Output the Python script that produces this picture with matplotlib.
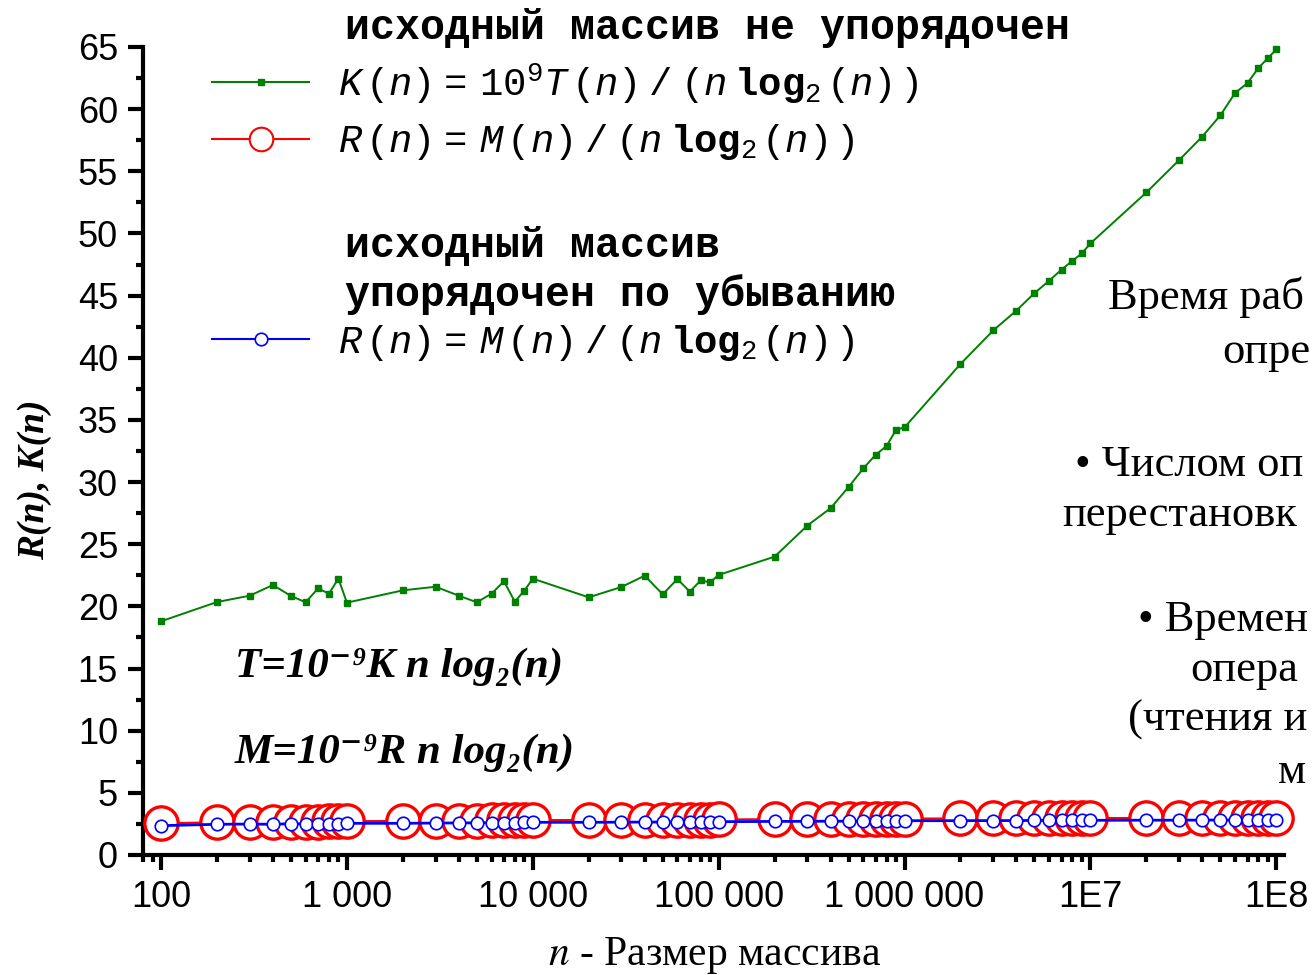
#!/usr/bin/env python3
# -*- coding: utf-8 -*-
"""K(n) и R(n) для сортировки: время и число операций, нормированные на n log2(n)."""
import matplotlib

matplotlib.use("Agg")
import matplotlib.pyplot as plt
from matplotlib.lines import Line2D
from matplotlib.ticker import FixedFormatter, FixedLocator, MultipleLocator

# размеры массива
n_values = [
    100, 200, 300, 400, 500, 600, 700, 800, 900,
    1000, 2000, 3000, 4000, 5000, 6000, 7000, 8000, 9000,
    10000, 20000, 30000, 40000, 50000, 60000, 70000, 80000, 90000,
    100000, 200000, 300000, 400000, 500000, 600000, 700000, 800000, 900000,
    1000000, 2000000, 3000000, 4000000, 5000000, 6000000, 7000000, 8000000, 9000000,
    10000000, 20000000, 30000000, 40000000, 50000000, 60000000, 70000000, 80000000, 90000000,
    100000000,
]

# K(n), исходный массив не упорядочен
k_unsorted = [
    18.8, 20.35, 20.86, 21.72, 20.84, 20.33, 21.45, 21.02, 22.23,
    20.3, 21.29, 21.58, 20.86, 20.33, 21.02, 22.02, 20.38, 21.26,
    22.23, 20.73, 21.56, 22.47, 20.97, 22.2, 21.18, 22.09, 21.94,
    22.53, 24.0, 26.5, 27.9, 29.6, 31.1, 32.2, 32.9, 34.2,
    34.4, 39.5, 42.2, 43.8, 45.2, 46.2, 47.1, 47.8, 48.4,
    49.2, 53.3, 55.9, 57.8, 59.5, 61.3, 62.1, 63.3, 64.1,
    64.8,
]

# R(n), исходный массив не упорядочен
r_unsorted = [
    2.55, 2.63, 2.66, 2.66, 2.68, 2.68, 2.69, 2.70, 2.70,
    2.72, 2.74, 2.75, 2.76, 2.77, 2.78, 2.78, 2.79, 2.79,
    2.80, 2.82, 2.83, 2.83, 2.84, 2.84, 2.85, 2.85, 2.85,
    2.86, 2.88, 2.89, 2.90, 2.90, 2.91, 2.91, 2.92, 2.92,
    2.93, 2.94, 2.95, 2.95, 2.96, 2.96, 2.96, 2.97, 2.97,
    2.97, 2.98, 2.99, 2.99, 2.99, 3.00, 3.00, 3.00, 3.00,
    3.01,
]

# R(n), исходный массив упорядочен по убыванию
r_desc = [
    2.36, 2.47, 2.49, 2.47, 2.52, 2.50, 2.52, 2.53, 2.53,
    2.55, 2.55, 2.57, 2.58, 2.59, 2.60, 2.61, 2.61, 2.62,
    2.63, 2.63, 2.64, 2.65, 2.65, 2.66, 2.66, 2.67, 2.67,
    2.68, 2.70, 2.71, 2.72, 2.72, 2.73, 2.74, 2.74, 2.75,
    2.76, 2.76, 2.77, 2.77, 2.78, 2.78, 2.78, 2.79, 2.79,
    2.79, 2.80, 2.80, 2.81, 2.81, 2.81, 2.82, 2.82, 2.82,
    2.82,
]

x_major = [100, 1000, 10000, 100000, 1000000, 10000000, 100000000]
x_major_labels = ["100", "1 000", "10 000", "100 000", "1 000 000", "1E7", "1E8"]

label_k = r"$K\,(n)\,=\ 10^{9}T\,(n)\ /\ (n\ \mathbf{log}_{2}\,(n)\,)$"
label_r = r"$R\,(n)\,=\ M\,(n)\ /\ (n\ \mathbf{log}_{2}\,(n)\,)$"

plt.rcParams["mathtext.fontset"] = "custom"
plt.rcParams["mathtext.rm"] = "Liberation Mono"
plt.rcParams["mathtext.it"] = "Liberation Mono:italic"
plt.rcParams["mathtext.bf"] = "Liberation Mono:bold"

W, H = 1313, 975
fig = plt.figure(figsize=(W / 100, H / 100), dpi=100)
ax = fig.add_axes([143 / W, 1 - 855 / H, (1284 - 143) / W, (855 - 47) / H])

GREEN = "#008000"
ax.plot(n_values, k_unsorted, color=GREEN, lw=1.4, marker="s", ms=5,
        mec=GREEN, mfc=GREEN, zorder=3, clip_on=False)
ax.plot(n_values, r_unsorted, color="red", lw=1.5, marker="o", ms=24,
        mec="red", mfc="white", mew=2.4, zorder=4, clip_on=False)
ax.plot(n_values, r_desc, color="blue", lw=2.0, marker="o", ms=9,
        mec="blue", mfc="white", mew=1.2, zorder=5, clip_on=False)

ax.set_xscale("log")
ax.set_xlim(80, 1.1e8)
ax.set_ylim(0, 65)
ax.xaxis.set_major_locator(FixedLocator(x_major))
ax.xaxis.set_major_formatter(FixedFormatter(x_major_labels))
ax.yaxis.set_major_locator(MultipleLocator(5))
ax.yaxis.set_minor_locator(MultipleLocator(2.5))

for side in ["top", "right"]:
    ax.spines[side].set_visible(False)
for side in ["left", "bottom"]:
    ax.spines[side].set_linewidth(3)

ax.tick_params(which="major", direction="out", length=11, width=3, labelsize=26,
               pad=7)
ax.tick_params(which="minor", direction="out", length=5, width=3)
for lab in ax.get_xticklabels() + ax.get_yticklabels():
    lab.set_fontfamily("Liberation Sans")

# легенды
title_kw = dict(family="Liberation Mono", weight="bold", size=30, va="center",
                ha="left")
fig.text(345 / W, 1 - 28 / H, "исходный массив не упорядочен", **title_kw)
fig.text(345 / W, 1 - 246 / H, "исходный массив", **title_kw)
fig.text(345 / W, 1 - 295 / H, "упорядочен по убыванию", **title_kw)

h_k = Line2D([], [], color=GREEN, lw=1.5, marker="s", ms=5, mfc=GREEN, mec=GREEN)
h_r = Line2D([], [], color="red", lw=1.5, marker="o", ms=17, mfc="white",
             mec="red", mew=1.5)
h_b = Line2D([], [], color="blue", lw=1.5, marker="o", ms=9, mfc="white",
             mec="blue", mew=1.2)

leg_kw = dict(loc="upper left", frameon=False, fontsize=28, handlelength=2.5,
              handletextpad=0.75, borderpad=0, borderaxespad=0,
              bbox_transform=fig.transFigure)
leg1 = ax.legend([h_k, h_r], [label_k, label_r],
                 bbox_to_anchor=(212 / W, 1 - 61 / H), labelspacing=0.42,
                 **leg_kw)
ax.add_artist(leg1)
ax.legend([h_b], [label_r], bbox_to_anchor=(212 / W, 1 - 323 / H), **leg_kw)

# формулы
formula_kw = dict(family=["Liberation Serif", "DejaVu Serif"], weight="bold",
                  style="italic", size=31, va="center", ha="left")
fig.text(235 / W, 1 - 667 / H, "T=10⁻⁹K n log₂(n)", **formula_kw)
fig.text(235 / W, 1 - 753 / H, "M=10⁻⁹R n log₂(n)", **formula_kw)

# подписи осей
fig.text(35 / W, 1 - 480 / H, "R(n), K(n)", family="Liberation Serif",
         weight="bold", style="italic", size=27, rotation=90, ha="center",
         va="center")
fig.text(715 / W, 1 - 955 / H, r"$n$ - Размер массива", family="Liberation Serif",
         size=30, ha="center", va="center", math_fontfamily="stix")

# фрагменты текста слайда справа (как в оригинале, у края)
side_kw = dict(family="Liberation Serif", size=32, va="center", ha="left")
for x_px, y_px, txt in [
    (1108, 297, "Время раб"),
    (1222, 352, "опре"),
    (1075, 465, "• Числом оп"),
    (1062, 515, "перестановк"),
    (1138, 620, "• Времен"),
    (1190, 670, "опера"),
    (1128, 720, "(чтения и"),
    (1278, 772, "м"),
]:
    fig.text(x_px / W, 1 - y_px / H, txt, **side_kw)

fig.savefig("out.png", dpi=100)
